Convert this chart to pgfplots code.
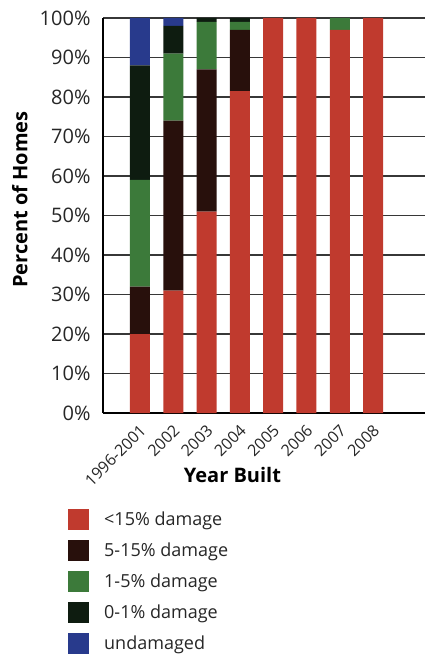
\documentclass[border=0pt]{standalone}
\usepackage{fontspec}
\setmainfont{Open Sans}
\usepackage{pgfplots}
\pgfplotsset{compat=1.18}
\definecolor{cred}{RGB}{192,58,46}
\definecolor{cbrown}{RGB}{40,16,12}
\definecolor{cgreen}{RGB}{60,122,58}
\definecolor{cdark}{RGB}{14,28,16}
\definecolor{cblue}{RGB}{40,58,140}
\definecolor{cgrid}{RGB}{55,55,55}
\pgfplotsset{sq/.style={legend image code/.code={\fill[##1] (0pt,-10.5pt) rectangle (21pt,10.5pt);}}}
\begin{document}
\begin{tikzpicture}[x=1pt,y=1pt]
\path[use as bounding box] (0,0) rectangle (425,654);
\begin{axis}[
  at={(103pt,241pt)}, anchor=south west,
  width=322pt, height=395pt, scale only axis,
  ybar stacked, bar width=20pt,
  xmin=-1.11, xmax=8.56, ymin=0, ymax=100,
  xtick={0,1,2,3,4,5,6,7},
  xticklabels={1996-2001,2002,2003,2004,2005,2006,2007,2008},
  ytick={0,10,20,30,40,50,60,70,80,90,100},
  yticklabels={0\%,10\%,20\%,30\%,40\%,50\%,60\%,70\%,80\%,90\%,100\%},
  axis x line*=bottom, axis y line*=left,
  axis line style={line width=1.3pt, black},
  ymajorgrids, grid style={line width=1.2pt, cgrid},
  tick style={draw=none},
  /pgf/number format/assume math mode=true,
  yticklabel style={font=\fontsize{20}{22}\selectfont, xshift=-9pt, text=black!85},
  xticklabel style={font=\fontsize{16}{18}\selectfont, xshift=-1pt, yshift=-9pt, rotate=45, anchor=north east, inner sep=1pt, text=black!85},
  ylabel={\textbf{Percent of Homes}},
  ylabel style={font=\fontsize{20}{22}\selectfont, at={(axis description cs:-0.258,0.54)}, anchor=center},
  xlabel={\textbf{Year Built}},
  xlabel style={font=\fontsize{20}{22}\selectfont, at={(axis description cs:0.402,-0.157)}, anchor=center},
  legend style={at={(axis description cs:-0.1087,-0.243)}, anchor=north west, draw=none, fill=none,
    font=\fontsize{18}{20}\selectfont, row sep=10pt, inner sep=0pt,
    nodes={inner sep=0pt, text=black!85}, /tikz/every even column/.append style={column sep=0pt},
    /tikz/every odd column/.append style={column sep=15pt}},
  legend cell align=left,
]
\addplot+[sq, fill=cred, draw=none] coordinates {(0,20) (1,31) (2,51) (3,81.5) (4,100) (5,100) (6,97) (7,100)};
\addlegendentry{<15\% damage}
\addplot+[sq, fill=cbrown, draw=none] coordinates {(0,12) (1,43) (2,36) (3,15.5) (4,0) (5,0) (6,0) (7,0)};
\addlegendentry{5-15\% damage}
\addplot+[sq, fill=cgreen, draw=none] coordinates {(0,27) (1,17) (2,12) (3,2) (4,0) (5,0) (6,3) (7,0)};
\addlegendentry{1-5\% damage}
\addplot+[sq, fill=cdark, draw=none] coordinates {(0,29) (1,7) (2,1) (3,1) (4,0) (5,0) (6,0) (7,0)};
\addlegendentry{0-1\% damage}
\addplot+[sq, fill=cblue, draw=none] coordinates {(0,12) (1,2) (2,0) (3,0) (4,0) (5,0) (6,0) (7,0)};
\addlegendentry{undamaged}
\end{axis}
\end{tikzpicture}
\end{document}
